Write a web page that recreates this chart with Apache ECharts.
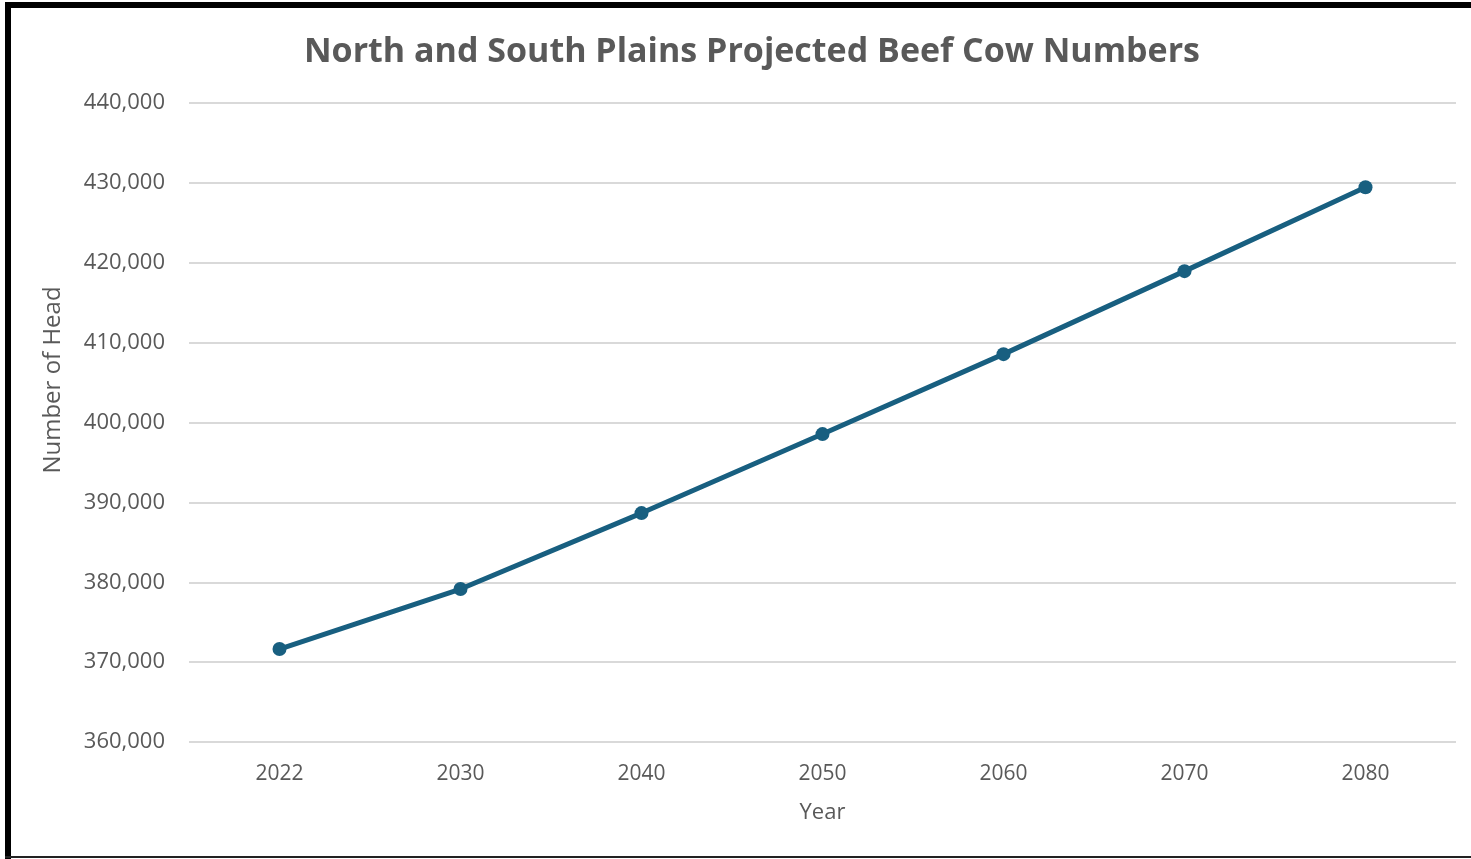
<!DOCTYPE html>
<html>
<head>
<meta charset="utf-8">
<script src="https://cdn.jsdelivr.net/npm/echarts@6/dist/echarts.min.js"></script>
<style>
  html, body { margin: 0; padding: 0; background: #fff; }
  #chart { position: absolute; left: 0; top: 0; width: 1471px; height: 859px; }
  .frame { position: absolute; background: #000; }
</style>
</head>
<body>
<div id="chart"></div>
<div class="frame" style="left:5px;top:2px;width:1466px;height:6px;"></div>
<div class="frame" style="left:5px;top:2px;width:6px;height:857px;"></div>
<div class="frame" style="left:5px;top:856px;width:1466px;height:2px;background:#222;"></div>
<script>
// projected beef cow numbers
const years = ["2022", "2030", "2040", "2050", "2060", "2070", "2080"];
const head = [371640, 379150, 388660, 398550, 408560, 418950, 429460];
const yMin = 360000;
const yMax = 440000;
const yStep = 10000;

const grey = "#595959";
const font = "Open Sans";
const chart = echarts.init(document.getElementById("chart"));

chart.setOption({
  animation: false,
  title: {
    text: "North and South Plains Projected Beef Cow Numbers",
    left: 747,
    textAlign: "center",
    top: 30,
    textStyle: {
      fontFamily: font,
      fontSize: 34,
      fontWeight: "bold",
      color: grey
    }
  },
  grid: {
    left: 189,
    right: 15,
    top: 103,
    bottom: 117
  },
  xAxis: {
    type: "category",
    data: years,
    boundaryGap: true,
    name: "Year",
    nameLocation: "middle",
    nameGap: 60,
    nameTextStyle: { fontFamily: font, fontSize: 22, color: grey },
    axisLine: { show: false },
    axisTick: { show: false },
    axisLabel: { margin: 22, fontFamily: font, fontSize: 21, color: grey }
  },
  yAxis: {
    type: "value",
    min: yMin,
    max: yMax,
    interval: yStep,
    axisLine: { show: false },
    axisTick: { show: false },
    axisLabel: {
      margin: 24,
      fontFamily: font,
      fontSize: 22,
      color: grey,
      formatter: v => v.toLocaleString("en-US")
    },
    splitLine: { lineStyle: { color: "#d9d9d9", width: 2 } }
  },
  graphic: [{
    type: "text",
    x: 53,
    y: 380,
    rotation: Math.PI / 2,
    style: {
      text: "Number of Head",
      fontFamily: font,
      fontSize: 24,
      fill: grey,
      align: "center",
      verticalAlign: "middle"
    }
  }],
  series: [{
    type: "line",
    data: head,
    symbol: "circle",
    symbolSize: 14,
    itemStyle: { color: "#185f80" },
    lineStyle: { color: "#185f80", width: 5 }
  }]
});
</script>
</body>
</html>
